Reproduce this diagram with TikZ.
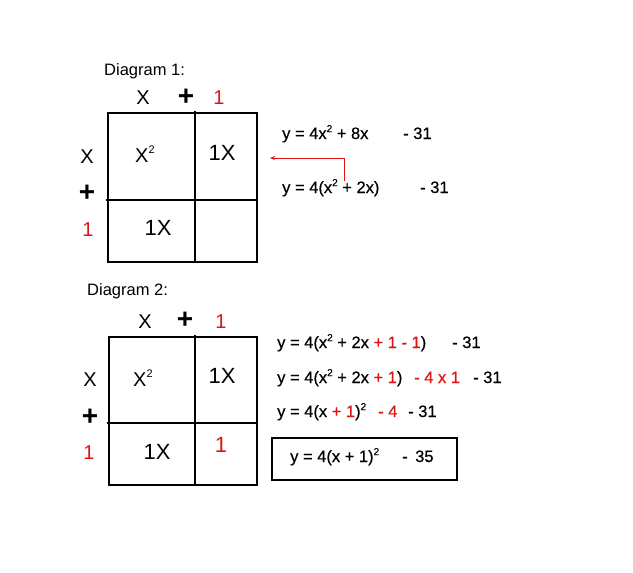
\documentclass[tikz,border=0pt]{standalone}
\usepackage{fontspec}
\setmainfont{Liberation Sans}
\newfontfamily\eqfont[FakeBold=0.5]{Liberation Sans}
\usetikzlibrary{arrows.meta}
\definecolor{myred}{RGB}{225,20,20}
\newcommand{\rd}[1]{\textcolor{myred}{#1}}
\newcommand{\smsup}[1]{\raisebox{0.42em}{\fontsize{11}{11}\selectfont #1}}
\newcommand{\eqsup}[1]{\raisebox{0.42em}{\fontsize{10}{10}\selectfont #1}}
\begin{document}
\begin{tikzpicture}[x=1pt,y=-1pt,
  lab/.style={font=\fontsize{20}{20}\selectfont, inner sep=0pt},
  cel/.style={font=\fontsize{22}{22}\selectfont, inner sep=0pt},
  pls/.style={font=\fontsize{28}{28}\selectfont\bfseries, inner sep=0pt},
  ttl/.style={font=\fontsize{16.5}{16.5}\selectfont, anchor=base west, inner sep=0pt},
  eq/.style={font=\fontsize{16.5}{16.5}\eqfont, anchor=base west, inner sep=0pt},
  req/.style={eq, text=myred},
  grid/.style={line width=2.4pt},
  arr/.style={myred, line width=0.9pt, -{Stealth[length=5pt,width=4pt]}}]
\useasboundingbox (0,0) rectangle (633,573);
% ---------- Diagram 1 ----------
\node[ttl] (t1) at (104,75) {Diagram 1:};
\node[lab] (d1tx) at (143,98) {X};
\node[pls] (d1tp) at (186,97) {+};
\node[lab, text=myred] (d1t1) at (219,98) {1};
\node[lab] (d1lx) at (87,157) {X};
\node[pls] (d1lp) at (87,193) {+};
\node[lab, text=myred] (d1l1) at (88,230) {1};
\draw[grid] (108,113) rectangle (257,262);
\draw[grid] (195,111) -- (195,262);
\draw[grid] (106,200) -- (257,200);
\node[lab, anchor=base west] (d1c1) at (135,162) {X\smsup{2}};
\node[cel] (d1c2) at (222,153) {1X};
\node[cel] (d1c3) at (158,228) {1X};
\node[eq] (e1) at (282,139) {y = 4x\eqsup{2} + 8x};
\node[eq] (e1b) at (403,139) {- 31};
\node[eq] (e2) at (282,193) {y = 4(x\eqsup{2} + 2x)};
\node[eq] (e2b) at (420,193) {- 31};
\coordinate (a0) at (344,181);
\coordinate (a2) at (270,158);
\draw[arr] (a0) |- (a2);
% ---------- Diagram 2 ----------
\node[ttl] (t2) at (87,295) {Diagram 2:};
\node[lab] (d2tx) at (145,322) {X};
\node[pls] (d2tp) at (185,320) {+};
\node[lab, text=myred] (d2t1) at (221,322) {1};
\node[lab] (d2lx) at (90,380) {X};
\node[pls] (d2lp) at (90,417) {+};
\node[lab, text=myred] (d2l1) at (89,453) {1};
\draw[grid] (109,337) rectangle (257,485);
\draw[grid] (195,335) -- (195,485);
\draw[grid] (107,423) -- (257,423);
\node[lab, anchor=base west] (d2c1) at (133,386) {X\smsup{2}};
\node[cel] (d2c2) at (222,376) {1X};
\node[cel] (d2c3) at (157,452) {1X};
\node[cel, text=myred] (d2c4) at (221,445) {1};
\node[eq] (f1) at (277,348) {y = 4(x\eqsup{2} + 2x \rd{+ 1 - 1})};
\node[eq] (f1b) at (452,348) {- 31};
\node[eq] (f2) at (277,383) {y = 4(x\eqsup{2} + 2x \rd{+ 1})};
\node[req] (f2r) at (414,383) {- 4 x 1};
\node[eq] (f2b) at (473,383) {- 31};
\node[eq] (f3) at (277,417) {y = 4(x \rd{+ 1})\eqsup{2}};
\node[req] (f3r) at (378,417) {- 4};
\node[eq] (f3b) at (408,417) {- 31};
\node[draw, line width=1.6pt, minimum width=185pt, minimum height=42pt, anchor=north west, inner sep=0pt] (ansbox) at (271,437) {};
\node[eq] (ans) at (290,462) {y = 4(x + 1)\eqsup{2}};
\node[eq] (ansm) at (402,462) {-};
\node[eq] (ansn) at (415,462) {35};
\end{tikzpicture}
\end{document}
